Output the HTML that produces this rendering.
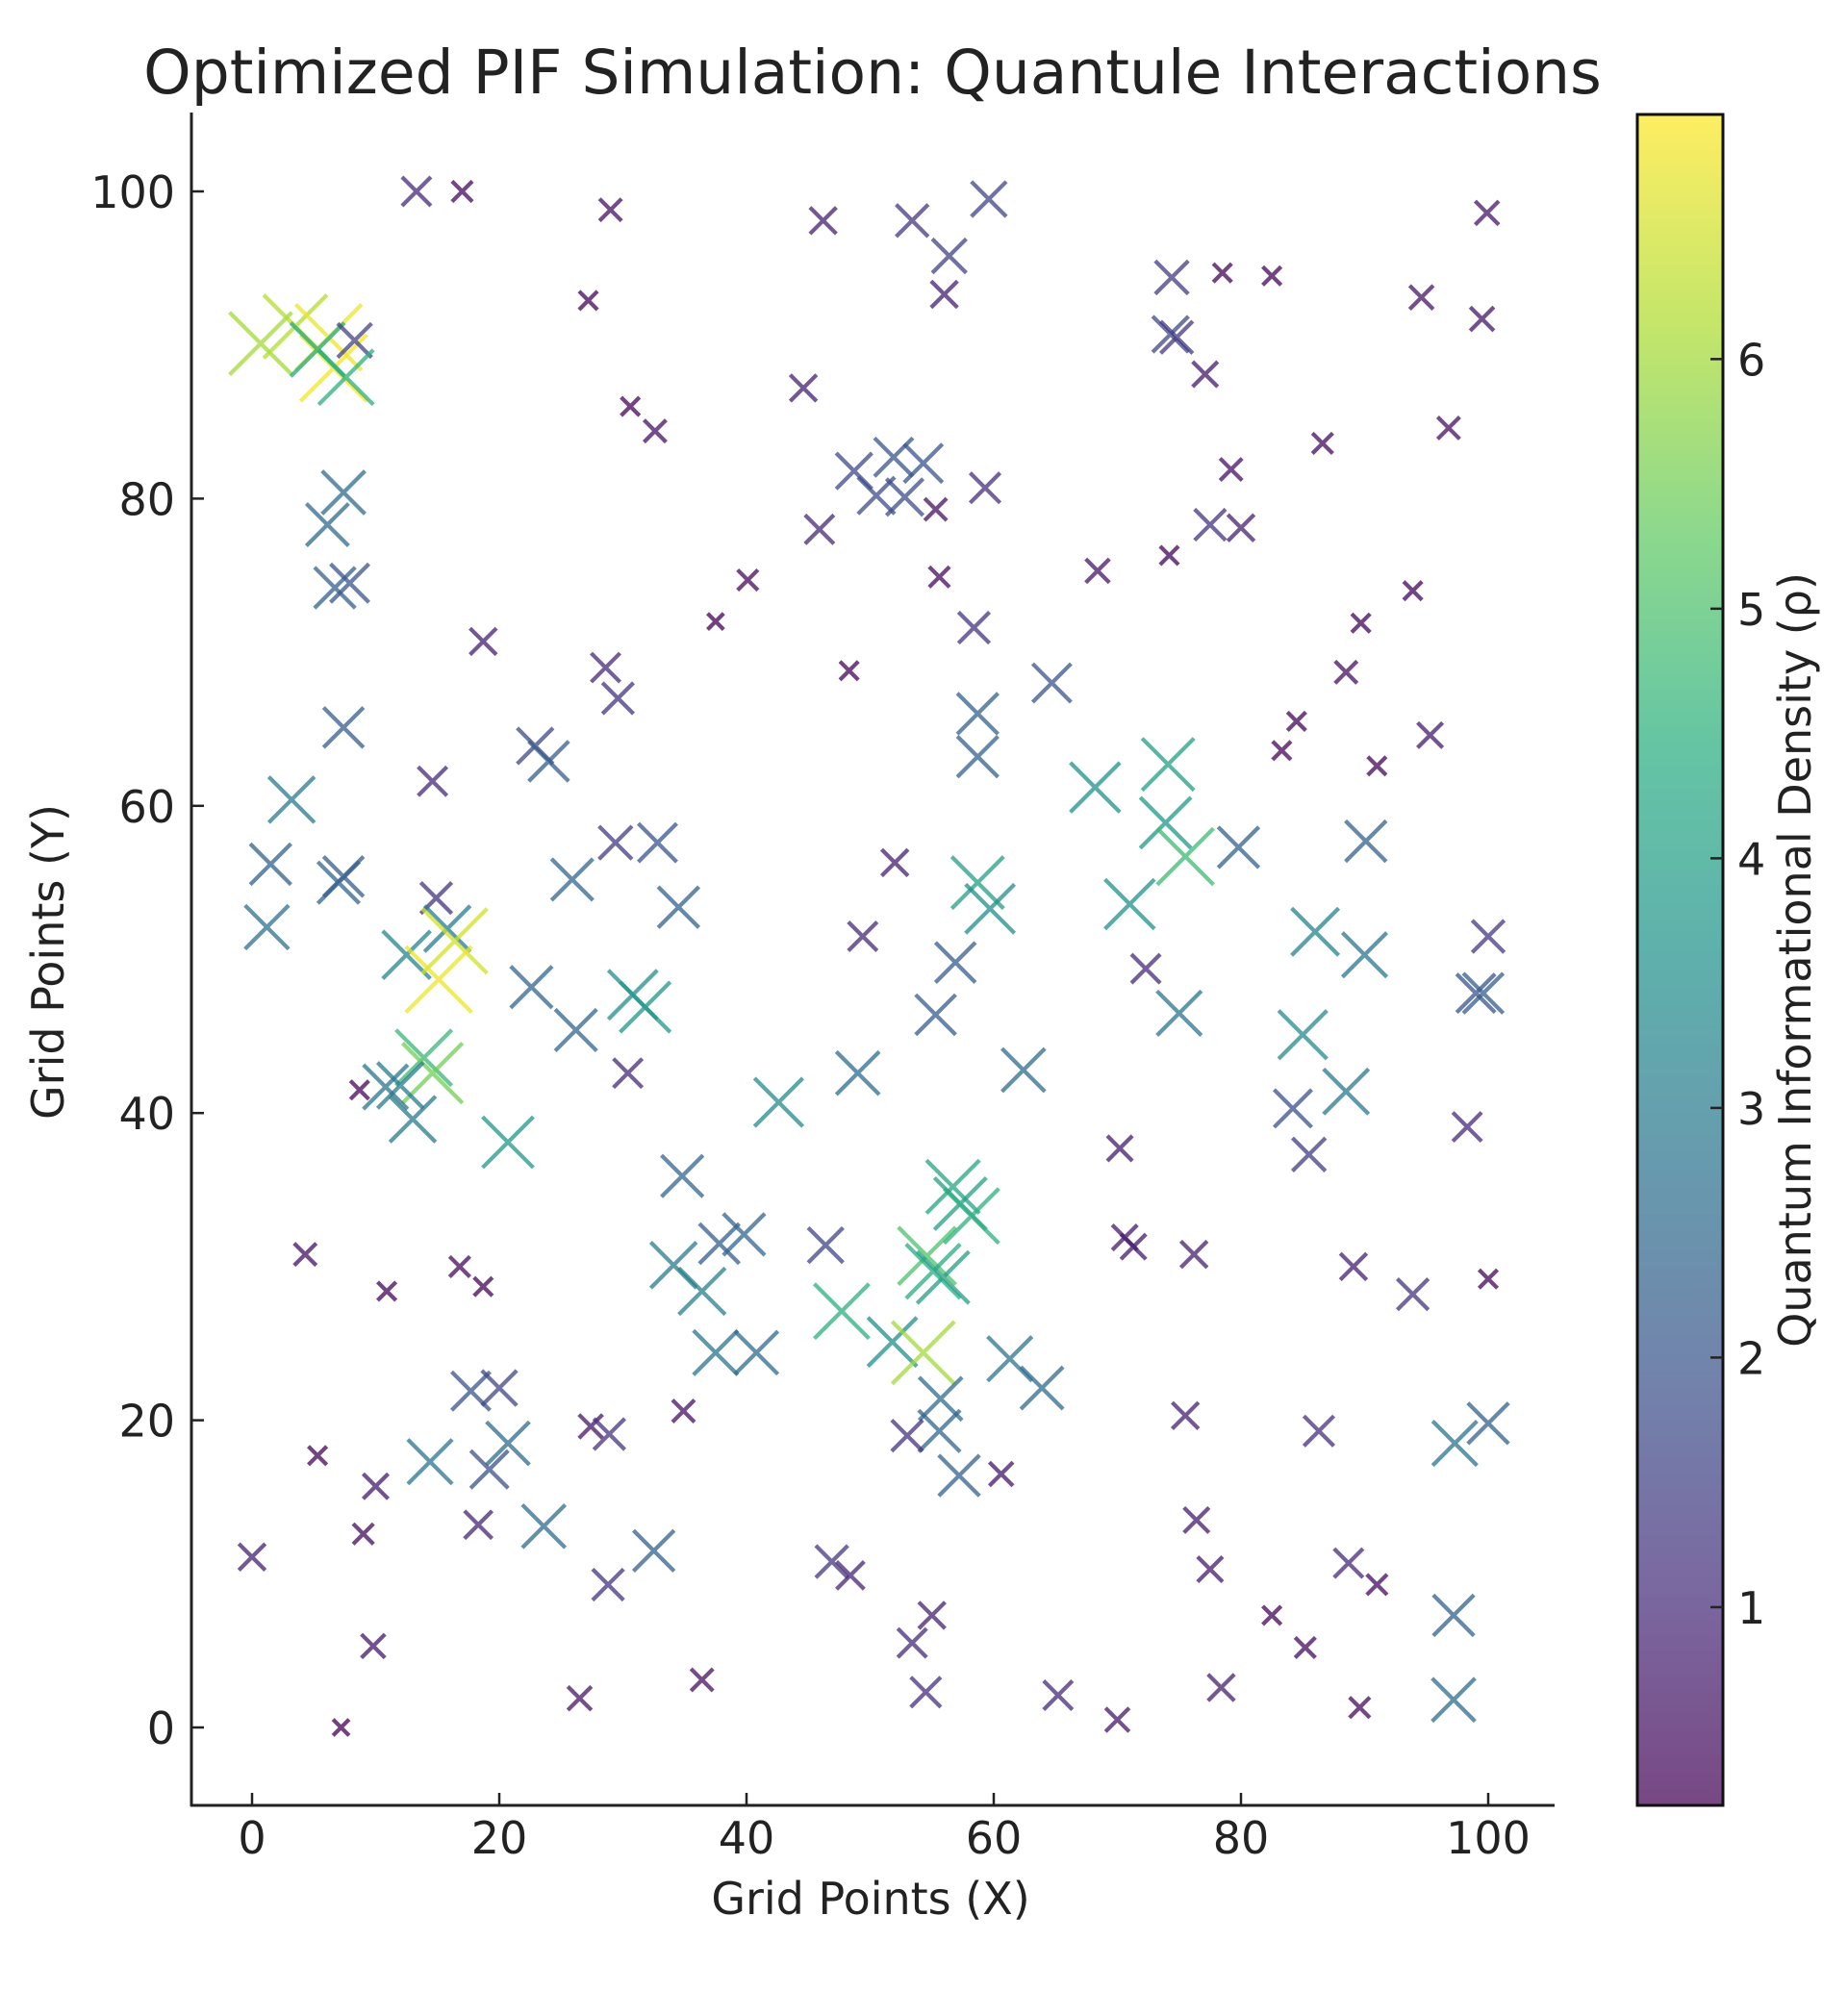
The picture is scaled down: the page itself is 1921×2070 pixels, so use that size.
<!DOCTYPE html>
<html><head><meta charset="utf-8"><style>
html,body{margin:0;padding:0;background:#fff;}
svg{display:block;font-family:"DejaVu Sans","Liberation Sans",sans-serif;}
</style></head><body>
<svg id="chart" width="1921" height="2070" viewBox="0 0 1921 2070" xmlns="http://www.w3.org/2000/svg">
<defs>
<linearGradient id="vir" x1="0" y1="1" x2="0" y2="0">
<stop offset="0" stop-color="#440154"/><stop offset="0.125" stop-color="#472d7b"/><stop offset="0.25" stop-color="#3b528b"/><stop offset="0.375" stop-color="#2c728e"/><stop offset="0.5" stop-color="#21918c"/><stop offset="0.625" stop-color="#28ae80"/><stop offset="0.75" stop-color="#5ec962"/><stop offset="0.875" stop-color="#addc30"/><stop offset="1" stop-color="#fde725"/>
</linearGradient>
</defs>
<text x="907" y="97" font-size="63" text-anchor="middle" fill="#222">Optimized PIF Simulation: Quantule Interactions</text>
<g id="marks"></g>
<g id="axes"></g>
<rect x="1702" y="119" width="89" height="1758" fill="url(#vir)" fill-opacity="0.72" stroke="#111" stroke-width="3"/>
<g id="cbar"></g>
<text x="905" y="1990" font-size="46" text-anchor="middle" fill="#222">Grid Points (X)</text>
<text transform="translate(66,1000) rotate(-90)" font-size="46" text-anchor="middle" fill="#222">Grid Points (Y)</text>
<text transform="translate(1882,998) rotate(-90)" font-size="46" text-anchor="middle" fill="#222">Quantum Informational Density (ρ)</text>
</svg>
<script>
const xs=[13.3,17,29,27.2,30.6,32.6,46.2,53.4,56.4,59.6,56,44.6,74.4,74.3,74.8,78.5,82.5,77.1,94.6,99.9,99.5,96.8,86.6,79.2,93.9,89.7,88.5,84.5,83.3,95.3,91,74.2,77.5,80,68.4,59.3,55.3,55.6,58.4,64.7,58.7,58.7,48.3,40.1,37.5,45.9,48.7,51.9,54.3,50.5,52.8,18.7,28.6,29.6,22.9,24,14.6,3.2,1.5,1.2,7.4,6.7,7.9,6.1,7.4,0.7,3.5,6.2,6.6,5.3,8.3,7.6,7,7.4,14.9,12.5,15.8,16.4,15.1,22.6,26.2,25.9,29.4,32.8,34.5,30.8,31.8,30.4,13.9,14.6,12,10.8,13,8.7,20.7,42.6,34.8,37.8,39.8,34.1,36.4,37.5,40.8,46.4,47.7,51.8,54.3,55.7,55.6,57.2,53,54.6,55.1,55.9,56.7,57.3,58.2,49,49.4,52,56.9,55.3,58.7,59.7,62.4,61.3,63.9,60.6,68.2,74.1,73.9,75.5,71,79.8,90.1,86,90,100,99,99.6,72.3,75,85,88.5,84.2,85.5,98.3,70.2,70.6,71.3,76.2,89.1,93.9,100,75.5,86.3,97.3,100,76.4,77.5,88.7,91,82.5,85.2,89.6,78.4,70,65.2,54.5,53.4,55,46.9,48.4,36.4,26.5,34.9,27.4,28.9,28.8,32.5,23.6,18.3,14.4,17.7,20,20.7,19.2,10,9,5.3,0,9.8,7.2,4.3,10.9,16.8,18.7,97.2,97.2];
const ys=[100,100,98.8,92.9,86,84.4,98.1,98.1,95.8,99.5,93.3,87.2,94.4,90.7,90.5,94.7,94.5,88.1,93.1,98.6,91.7,84.6,83.6,81.9,74,71.9,68.7,65.5,63.6,64.6,62.6,76.3,78.3,78.1,75.3,80.7,79.3,74.9,71.6,68,66,63.2,68.8,74.7,72,78,81.8,82.7,82.3,80.2,80.1,70.7,69,67,63.9,62.9,61.6,60.4,56.2,52.1,65.1,74.2,74.5,78.3,80.4,90.1,91.2,90.5,88.5,89.7,90.3,87.9,55,55.4,54,50.3,52,51.2,48.7,48.2,45.4,55.2,57.6,57.6,53.4,47.7,46.9,42.6,43.6,42.6,41.8,41.7,39.6,41.5,38.1,40.7,35.9,31.5,32.1,30.1,28.4,24.4,24.4,31.4,27.1,25.1,24.4,21.4,19.3,16.4,19,30.7,29.7,29.3,35.2,34.1,33.3,42.6,51.5,56.3,49.8,46.4,55,53.3,42.8,24,22.1,16.5,61.2,62.7,58.9,56.7,53.6,57.3,57.7,51.8,50.3,51.5,47.8,47.8,49.4,46.5,45.1,41.4,40.3,37.3,39.1,37.7,31.9,31.3,30.8,30,28.2,29.2,20.3,19.3,18.5,19.8,13.5,10.3,10.7,9.3,7.3,5.2,1.3,2.6,0.5,2.1,2.3,5.5,7.3,10.8,9.9,3.1,1.9,20.6,19.6,19.1,9.3,11.5,13.1,13.2,17.3,21.9,22.1,18.5,16.8,15.7,12.6,17.7,11.1,5.3,0,30.8,28.4,30,28.7,7.3,1.8];
const dens=[1.0,0.4,0.5,0.3,0.3,0.5,0.8,1.3,1.5,1.6,0.8,0.8,1.4,1.7,1.3,0.3,0.3,0.7,0.6,0.6,0.6,0.5,0.4,0.5,0.3,0.3,0.5,0.3,0.3,0.7,0.3,0.3,1.2,0.8,0.6,1.1,0.5,0.4,1.2,2.0,2.3,2.3,0.3,0.4,0.2,1.0,1.7,2.0,2.0,1.8,1.8,0.8,1.0,1.2,1.7,2.2,1.0,3.0,2.3,2.7,2.2,2.3,2.0,2.5,2.6,6.0,6.2,6.8,6.9,4.3,1.5,4.5,2.4,2.2,1.2,3.3,3.0,6.5,6.8,2.4,2.4,2.4,1.4,2.0,2.3,3.5,3.7,1.0,4.7,5.5,3.0,2.8,3.0,0.3,3.8,3.4,2.4,2.2,2.4,3.0,3.1,2.8,2.6,1.6,4.5,3.5,6.0,2.6,2.4,2.3,1.2,5.0,4.4,4.0,4.2,4.0,4.5,2.6,1.0,0.8,2.2,2.2,4.0,3.5,2.6,2.8,2.5,0.6,3.6,4.0,3.8,4.8,3.6,2.3,2.3,3.2,2.8,1.3,2.0,2.2,1.0,2.8,3.4,2.9,1.9,1.4,1.0,0.7,0.7,0.7,0.8,0.8,1.2,0.3,0.8,1.1,2.8,2.3,0.7,0.7,1.0,0.4,0.3,0.4,0.4,0.8,0.6,1.0,1.1,1.0,0.8,1.3,0.9,0.5,0.6,0.5,0.6,1.2,1.2,2.3,2.6,0.9,2.8,2.0,1.6,2.6,1.9,0.7,0.4,0.3,0.8,0.6,0.2,0.5,0.3,0.4,0.3,2.3,2.6];
const xTicks=[0,20,40,60,80,100];
const yTicks=[0,20,40,60,80,100];
const cTicks=[1,2,3,4,5,6];

const X=v=>262+v*12.85, Y=v=>1796-v*15.97;
const CMIN=0.206,CMAX=6.98, CB=v=>1877-(v-CMIN)/(CMAX-CMIN)*1758;
const VIR=[[68,1,84],[71,45,123],[59,82,139],[44,114,142],[33,145,140],[40,174,128],[94,201,98],[173,220,48],[253,231,37]];
function col(v){let t=Math.max(0,Math.min(1,(v-CMIN)/(CMAX-CMIN)))*8;let i=Math.min(7,Math.floor(t)),f=t-i;const a=VIR[i],b=VIR[i+1];return 'rgb('+a.map((c,k)=>Math.round(c+(b[k]-c)*f)).join(',')+')';}
const NS='http://www.w3.org/2000/svg';
function mk(t,at,p){const e=document.createElementNS(NS,t);for(const k in at)e.setAttribute(k,at[k]);p.appendChild(e);return e;}
const marks=document.getElementById('marks');
for(let i=0;i<xs.length;i++){
  const cx=X(xs[i]),cy=Y(ys[i]),h=(3+12*Math.sqrt(dens[i]));
  const p=mk('path',{d:`M${cx-h} ${cy-h}L${cx+h} ${cy+h}M${cx-h} ${cy+h}L${cx+h} ${cy-h}`,stroke:col(dens[i]),'stroke-opacity':0.75,'stroke-width':4.2,fill:'none'},marks);
  
  
}
const ax=document.getElementById('axes');
const l1=mk('line',{x1:199,y1:117,x2:199,y2:1878,stroke:'#222','stroke-width':3},ax);


const l2=mk('line',{x1:198,y1:1877,x2:1616,y2:1877,stroke:'#222','stroke-width':3},ax);


xTicks.forEach(v=>{
  const t=mk('line',{x1:X(v),y1:1877,x2:X(v),y2:1864,stroke:'#222','stroke-width':2.5},ax);
  
  
  const s=mk('text',{x:X(v),y:1927,'font-size':46,'text-anchor':'middle',fill:'#222'},ax);s.textContent=v;
  
  
});
yTicks.forEach(v=>{
  const t=mk('line',{x1:199,y1:Y(v),x2:212,y2:Y(v),stroke:'#222','stroke-width':2.5},ax);
  
  
  const s=mk('text',{x:182,y:Y(v)+17,'font-size':46,'text-anchor':'end',fill:'#222'},ax);s.textContent=v;
  
  
});
const cb=document.getElementById('cbar');
cTicks.forEach(v=>{
  const t=mk('line',{x1:1778,y1:CB(v),x2:1791,y2:CB(v),stroke:'#222','stroke-width':2.5},cb);
  
  
  const s=mk('text',{x:1806,y:CB(v)+17,'font-size':46,fill:'#222'},cb);s.textContent=v;
  
  
});
</script>
</body></html>
